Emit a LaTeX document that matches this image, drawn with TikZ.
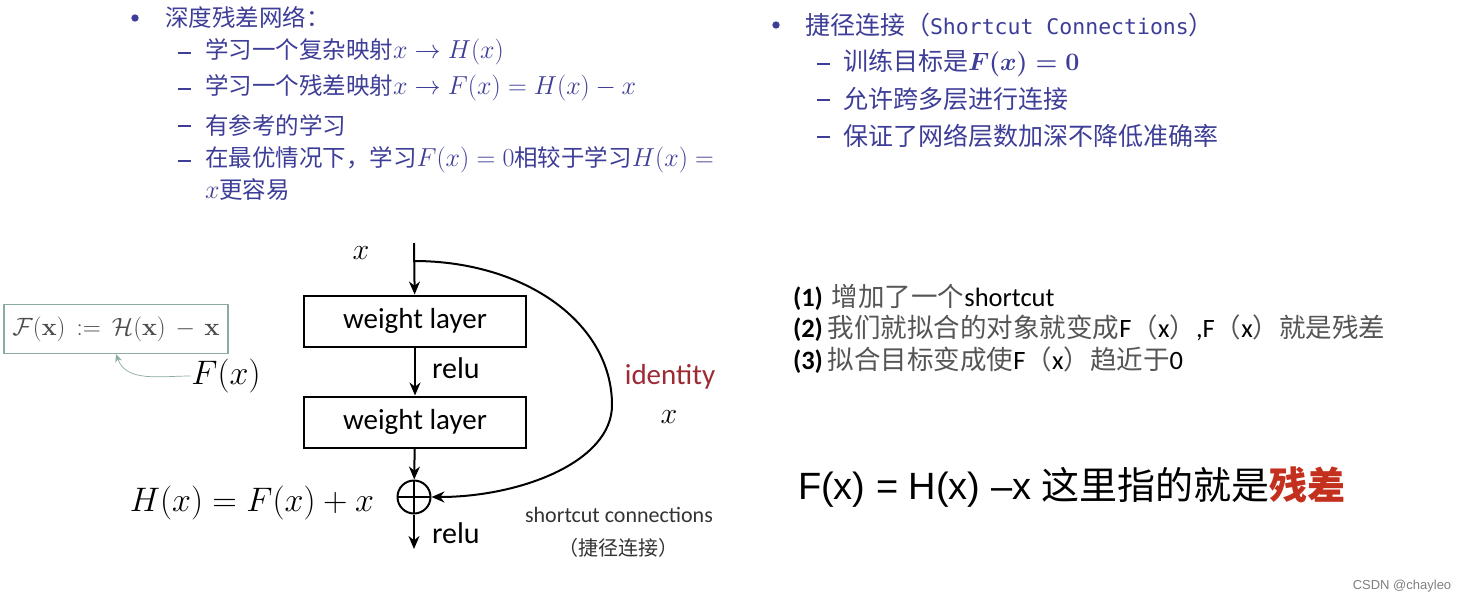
\documentclass[tikz,border=0pt]{standalone}
\usepackage{fix-cm}
\usepackage{amsmath,amssymb}
\usepackage[no-math]{fontspec}
\setmainfont{Carlito}
\newfontfamily\cjk{Noto Sans CJK SC}
\newfontfamily\arialf{Liberation Sans}
\newfontfamily\monof{DejaVu Sans Mono}
\usetikzlibrary{arrows.meta}
\definecolor{slide}{RGB}{62,62,152}
\definecolor{ident}{RGB}{158,42,52}
\definecolor{boxgr}{RGB}{140,172,160}
\definecolor{resred}{RGB}{196,48,30}
\definecolor{notegr}{RGB}{85,85,85}
\newcommand\fs[1]{\fontsize{#1}{#1}\selectfont}
\newcommand\mth[1]{{\fs{26}$#1$}}
\tikzset{
  >={Stealth[length=13pt,width=11pt]},
  lay/.style={draw,line width=2pt,minimum width=222pt,minimum height=51pt,inner sep=0pt,font=\fs{29}},
  addc/.style={circle,draw,line width=2pt,minimum size=33pt,inner sep=0pt,
    path picture={\draw[line width=2pt] (path picture bounding box.north)--(path picture bounding box.south)
      (path picture bounding box.west)--(path picture bounding box.east);}},
  bul/.style={circle,fill=slide,inner sep=2.6pt},
  ln/.style={anchor=west,inner sep=0pt,text=slide,font=\cjk\fs{23.5}},
  rn/.style={anchor=west,inner sep=0pt,text=slide,font=\cjk\fs{25}},
  dsh/.style={anchor=west,fill=slide,inner sep=0pt,minimum width=13pt,minimum height=2.4pt},
  nt/.style={anchor=west,inner sep=0pt,text=notegr,font=\fs{26.5}},
  lb/.style={inner sep=0pt},
  defbox/.style={draw=boxgr,line width=1.2pt,minimum width=224pt,minimum height=49pt,inner sep=0pt,text=black!70,font=\fs{25}},
  fxarr/.style={draw=boxgr,line width=0.7pt,-{Stealth[length=8pt,width=7pt]}},
}
\begin{document}
\begin{tikzpicture}[x=1pt,y=-1pt,line width=2pt]
\path[fill=white,use as bounding box] (0,0) rectangle (1464,603);
\node[bul] (b1) at (135,18){}; \node[ln] (l0) at (164,17){深度残差网络：};
\node[dsh] (d1) at (177,53){}; \node[ln] (l1) at (204,52){学习一个复杂映射\mth{x\to H(x)}};
\node[dsh] (d2) at (177,89){}; \node[ln] (l2) at (204,88){学习一个残差映射\mth{x\to F(x)=H(x)-x}};
\node[dsh] (d3) at (177,126){}; \node[ln] (l3) at (204,125){有参考的学习};
\node[dsh] (d4) at (177,161){}; \node[ln] (l4) at (204,160){在最优情况下，学习\mth{F(x)=0}相较于学习\mth{H(x)=}};
\node[ln] (l5) at (204,190){\mth{x}更容易};
\node[bul] (b2) at (776,25){}; \node[rn] (r0) at (804,25){捷径连接（{\monof\fs{21.5}Shortcut Connections}）};
\node[dsh] (e1) at (816,64){}; \node[rn] (r1) at (842,63){训练目标是{\boldmath$F(x)=0$}};
\node[dsh] (e2) at (816,100){}; \node[rn] (r2) at (842,99){允许跨多层进行连接};
\node[dsh] (e3) at (816,137){}; \node[rn] (r3) at (842,136){保证了网络层数加深不降低准确率};
\coordinate (xtop) at (414,243); \coordinate (split) at (414,261); \coordinate (out) at (414,549);
\node[lay] (w1) at (415,321){weight layer}; \node[lay] (w2) at (415,422){weight layer};
\node[addc] (plus) at (414,497){};
\draw[->] (xtop)--(w1); \draw[->] (w1)--(w2); \draw[->] (w2)--(plus); \draw[->] (plus)--(out);
\draw[->] (split) .. controls (525,261) and (612,323) .. (612,405) .. controls (612,462) and (520,497) .. (plus);
\node[lb,font=\fs{30}] (xi) at (361,253){$x$};
\node[lb,anchor=west,font=\fs{30}] (relu1) at (431,368){relu};
\node[lb,anchor=west,font=\fs{30}] (relu2) at (431,533){relu};
\node[lb,text=ident,font=\fs{29}] (idt) at (670,377){identity};
\node[lb,font=\fs{30}] (xs) at (669,417){$x$};
\node[lb,text=black!80,font=\fs{22}] (sc) at (619,515){shortcut connections};
\node[lb,text=black!80,font=\cjk\fs{20}] (sczh) at (618,548){（捷径连接）};
\node[lb,font=\fs{34}] (hx) at (252,503){$H(x)=F(x)+x$};
\node[lb,font=\fs{34}] (fx) at (226,376){$F(x)$};
\node[defbox] (def) at (116,329){$\mathcal{F}(\mathbf{x})\mskip8mu{:=}\mskip8mu\mathcal{H}(\mathbf{x})\mskip7mu{-}\mskip7mu\mathbf{x}$};
\draw[fxarr] (fx.west) to[out=180,in=-70] (def.south);
\node[nt] (n1) at (792,297){{\bfseries\color{black}(1)}\hspace{9pt}{\cjk 增加了一个}{\color{black}shortcut}};
\node[nt] (n2) at (792,328){{\bfseries\color{black}(2)}\hspace{5pt}{\cjk 我们就拟合的对象就变成}{\color{black}F}{\cjk （}{\color{black}x}{\cjk ）}{\color{black},F}{\cjk （}{\color{black}x}{\cjk ）就是残差}};
\node[nt] (n3) at (792,360){{\bfseries\color{black}(3)}\hspace{5pt}{\cjk 拟合目标变成使}{\color{black}F}{\cjk （}{\color{black}x}{\cjk ）趋近于}{\color{black}0}};
\node[lb,anchor=west,font=\arialf\fs{38}] (res) at (797,487){F(x) = H(x) –x {\cjk 这里指的就是}{\cjk\bfseries\color{resred}残差}};
\node[lb,text=gray,font=\arialf\fs{13}] (wm) at (1402,586){CSDN @chayleo};
\end{tikzpicture}
\end{document}
